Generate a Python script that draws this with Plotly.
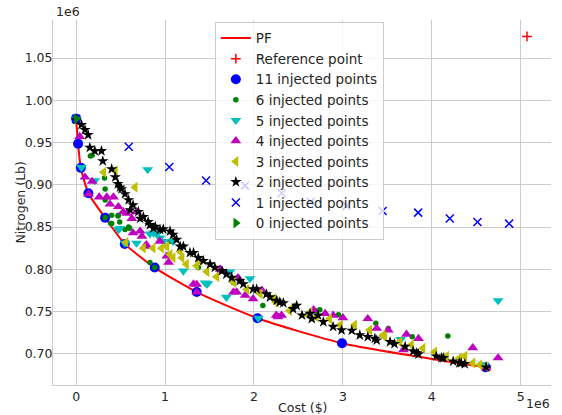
import numpy as np
import plotly.graph_objects as go

SCALE = 1e6  # both axes are in millions (offset label "1e6")

# Pareto front (cost, nitrogen), in millions
pf_cost = [0.0, 0.022, 0.053, 0.138, 0.326, 0.547, 0.884, 1.356, 2.04, 2.99, 4.607]
pf_nit = [0.978, 0.9485, 0.920, 0.890, 0.861, 0.830, 0.802, 0.773, 0.742, 0.7125, 0.684]

ref_cost = [5.07]
ref_nit = [1.0756]

# 11 injected points
inj11_cost = [0.0, 0.022, 0.053, 0.138, 0.326, 0.547, 0.884, 1.356, 2.04, 2.99, 4.607]
inj11_nit = [0.978, 0.9485, 0.920, 0.890, 0.861, 0.830, 0.802, 0.773, 0.742, 0.7125, 0.684]

# 6 injected points
inj6_cost = [0.16, 0.32, 0.326, 0.326, 0.326, 0.39, 0.40, 0.40, 0.47, 0.475, 0.49, 0.55,
             0.59, 0.60, 0.83, 0.884, 1.056, 1.374, 1.77, 2.10, 2.69, 2.74, 2.95, 3.37,
             3.51, 3.78, 4.18, 0.547, 0.18]
inj6_nit = [0.934, 0.908, 0.895, 0.882, 0.861, 0.854, 0.864, 0.854, 0.863, 0.864, 0.856, 0.847,
            0.850, 0.8485, 0.808, 0.802, 0.833, 0.802, 0.784, 0.757, 0.751, 0.752, 0.746, 0.736,
            0.730, 0.720, 0.721, 0.830, 0.935]

# 5 injected points
inj5_cost = [0.0, 0.06, 0.805, 0.21, 0.49, 0.55, 0.68, 0.83, 0.91, 0.94, 0.475, 0.87,
             0.98, 1.09, 1.206, 1.45, 1.48, 1.47, 1.73, 1.69, 1.955, 2.05, 3.65, 4.58, 4.745]
inj5_nit = [0.978, 0.9205, 0.918, 0.905, 0.8485, 0.831, 0.831, 0.842, 0.842, 0.837, 0.847, 0.843,
            0.833, 0.833, 0.798, 0.784, 0.783, 0.7825, 0.797, 0.767, 0.789, 0.742, 0.717, 0.687, 0.763]

# 4 injected points
inj4_cost = [0.04, 0.10, 0.18, 0.14, 0.26, 0.345, 0.42, 0.38, 0.475, 0.53, 0.57, 0.626,
             0.68, 0.64, 0.72, 0.74, 0.775, 0.79, 0.94, 1.02, 1.04, 1.32, 1.356, 1.356,
             1.62, 1.64, 1.77, 1.805, 1.82, 1.90, 1.99, 2.09, 2.25, 2.27, 2.31, 2.67,
             2.80, 2.89, 3.00, 3.28, 3.38, 3.51, 3.715, 3.85, 3.68, 4.46, 4.745, 4.61]
inj4_nit = [0.957, 0.909, 0.904, 0.889, 0.8855, 0.8855, 0.8855, 0.877, 0.874, 0.868, 0.866, 0.860,
            0.868, 0.843, 0.845, 0.839, 0.827, 0.829, 0.833, 0.8155, 0.808, 0.7825, 0.782, 0.773,
            0.800, 0.798, 0.773, 0.773, 0.790, 0.769, 0.765, 0.775, 0.7455, 0.7435, 0.7455, 0.752,
            0.7475, 0.7455, 0.7425, 0.7415, 0.730, 0.728, 0.723, 0.718, 0.7047, 0.707, 0.695, 0.683]

# 3 injected points
inj3_cost = [0.31, 0.44, 0.663, 0.56, 0.756, 0.865, 0.96, 1.02, 1.056, 1.09, 1.17, 1.19,
             1.24, 1.356, 1.39, 1.47, 1.58, 1.77, 1.92, 2.07, 2.22, 2.25, 2.40, 2.44,
             2.61, 2.63, 2.70, 2.85, 2.97, 3.13, 3.30, 3.45, 3.47, 3.64, 3.77, 3.90,
             4.03, 4.165, 4.31, 4.37, 4.46, 4.54, 4.61]
inj3_nit = [0.9147, 0.9167, 0.897, 0.832, 0.825, 0.825, 0.825, 0.827, 0.8175, 0.8135, 0.821, 0.8135,
            0.806, 0.804, 0.810, 0.797, 0.791, 0.7845, 0.776, 0.771, 0.765, 0.761, 0.751, 0.755,
            0.7455, 0.749, 0.7435, 0.7415, 0.734, 0.734, 0.728, 0.722, 0.720, 0.714, 0.7105, 0.7066,
            0.702, 0.697, 0.695, 0.697, 0.689, 0.687, 0.685]

# 2 injected points
inj2_cost = [0.0, 0.06, 0.10, 0.135, 0.154, 0.21, 0.285, 0.30, 0.40, 0.44, 0.47, 0.494,
             0.51, 0.55, 0.59, 0.607, 0.64, 0.70, 0.72, 0.756, 0.81, 0.83, 0.87, 0.89,
             0.944, 0.98, 1.056, 1.09, 1.13, 1.17, 1.206, 1.28, 1.32, 1.374, 1.43, 1.506,
             1.56, 1.64, 1.69, 1.75, 1.84, 1.88, 1.99, 2.03, 2.14, 2.18, 2.255, 2.29,
             2.33, 2.44, 2.48, 2.54, 2.63, 2.65, 2.72, 2.78, 2.89, 2.985, 3.10, 3.19,
             3.28, 3.36, 3.38, 3.53, 3.58, 3.70, 3.79, 3.83, 3.85, 4.05, 4.11, 4.13,
             4.24, 4.31, 4.33, 4.37, 4.61]
inj2_nit = [0.977, 0.971, 0.965, 0.959, 0.944, 0.940, 0.940, 0.928, 0.9186, 0.909, 0.901, 0.897,
            0.895, 0.889, 0.882, 0.870, 0.876, 0.868, 0.860, 0.862, 0.856, 0.8525, 0.8485, 0.8505,
            0.8467, 0.8475, 0.845, 0.841, 0.835, 0.827, 0.827, 0.8195, 0.8195, 0.8135, 0.810, 0.806,
            0.802, 0.798, 0.794, 0.790, 0.7863, 0.7825, 0.7765, 0.7765, 0.7706, 0.767, 0.763, 0.761,
            0.760, 0.753, 0.757, 0.7455, 0.7475, 0.7415, 0.7455, 0.7377, 0.732, 0.728, 0.7275, 0.722,
            0.720, 0.718, 0.716, 0.714, 0.7117, 0.7085, 0.703, 0.7008, 0.6996, 0.697, 0.695, 0.695,
            0.691, 0.689, 0.689, 0.688, 0.684]

# 1 injected point
inj1_cost = [0.0, 0.592, 1.048, 1.461, 1.899, 2.311, 2.637, 3.042, 3.446, 3.846, 4.202, 4.513, 4.869]
inj1_nit = [0.978, 0.945, 0.921, 0.905, 0.899, 0.890, 0.880, 0.875, 0.869, 0.867, 0.860, 0.856, 0.854]

# 0 injected points
inj0_cost = [0.0]
inj0_nit = [0.978]

x_ticks = [0, 1, 2, 3, 4, 5]
x_tick_text = ["0", "1", "2", "3", "4", "5"]
y_ticks = [0.70, 0.75, 0.80, 0.85, 0.90, 0.95, 1.00, 1.05]
y_tick_text = ["0.70", "0.75", "0.80", "0.85", "0.90", "0.95", "1.00", "1.05"]


def s(vals):
    return np.asarray(vals) * SCALE


FONT = "DejaVu Sans"
TXT = "#262626"
GRID = "#cccccc"

fig = go.Figure()
fig.add_trace(go.Scatter(x=s(pf_cost), y=s(pf_nit), mode="lines", name="PF",
                         line=dict(color="#ff0000", width=2, shape="spline", smoothing=0.6)))
fig.add_trace(go.Scatter(x=s(ref_cost), y=s(ref_nit), mode="markers", name="Reference point",
                         marker=dict(symbol="cross-thin", size=7, color="#ff0000",
                                     line=dict(color="#ff0000", width=1.5))))
fig.add_trace(go.Scatter(x=s(inj11_cost), y=s(inj11_nit), mode="markers", name="11 injected points",
                         marker=dict(symbol="circle", size=10, color="#0000ff",
                                     line=dict(width=0))))
fig.add_trace(go.Scatter(x=s(inj6_cost), y=s(inj6_nit), mode="markers", name="6 injected points",
                         marker=dict(symbol="circle", size=5.5, color="#008000",
                                     line=dict(width=0))))
fig.add_trace(go.Scatter(x=s(inj5_cost), y=s(inj5_nit), mode="markers", name="5 injected points",
                         marker=dict(symbol="triangle-down", size=9.5, color="#00bfbf",
                                     line=dict(width=0))))
fig.add_trace(go.Scatter(x=s(inj4_cost), y=s(inj4_nit), mode="markers", name="4 injected points",
                         marker=dict(symbol="triangle-up", size=9.5, color="#bf00bf",
                                     line=dict(width=0))))
fig.add_trace(go.Scatter(x=s(inj3_cost), y=s(inj3_nit), mode="markers", name="3 injected points",
                         marker=dict(symbol="triangle-left", size=9.5, color="#bfbf00",
                                     line=dict(width=0))))
fig.add_trace(go.Scatter(x=s(inj2_cost), y=s(inj2_nit), mode="markers", name="2 injected points",
                         marker=dict(symbol="star", size=8.5, color="#000000",
                                     line=dict(width=0))))
fig.add_trace(go.Scatter(x=s(inj1_cost), y=s(inj1_nit), mode="markers", name="1 injected points",
                         marker=dict(symbol="x-thin", size=8, color="#0000ff",
                                     line=dict(color="#0000ff", width=1.5))))
fig.add_trace(go.Scatter(x=s(inj0_cost), y=s(inj0_nit), mode="markers", name="0 injected points",
                         marker=dict(symbol="triangle-right", size=9.5, color="#008000",
                                     line=dict(width=0))))

fig.update_layout(
    width=562, height=415,
    margin=dict(l=53, r=11, t=20, b=24),
    paper_bgcolor="white", plot_bgcolor="white",
    font=dict(family=FONT, size=12, color=TXT),
    showlegend=True,
    legend=dict(x=0.325, y=0.995, xanchor="left", yanchor="top",
                bgcolor="rgba(255,255,255,0.8)", bordercolor=GRID, borderwidth=1,
                font=dict(family=FONT, size=13.5, color=TXT)),
)
fig.update_xaxes(range=[-0.26 * SCALE, 5.34 * SCALE], tickvals=s(x_ticks), ticktext=x_tick_text,
                 showgrid=True, gridcolor=GRID, gridwidth=1, zeroline=False,
                 showline=True, linecolor=GRID, linewidth=1, ticks="", ticklen=0,
                 tickfont=dict(family=FONT, size=12.5, color=TXT))
fig.update_yaxes(range=[0.663 * SCALE, 1.095 * SCALE], tickvals=s(y_ticks), ticktext=y_tick_text,
                 showgrid=True, gridcolor=GRID, gridwidth=1, zeroline=False,
                 showline=True, linecolor=GRID, linewidth=1, ticks="", ticklen=0,
                 ticklabelstandoff=-3,
                 tickfont=dict(family=FONT, size=12.5, color=TXT))

# axis titles and scale-offset labels
fig.add_annotation(text="Cost ($)", xref="paper", yref="paper", x=0.5, y=0, yshift=-13,
                   xanchor="center", yanchor="top", showarrow=False,
                   font=dict(family=FONT, size=12.5, color=TXT))
fig.add_annotation(text="Nitrogen (Lb)", xref="paper", yref="paper", x=0, xshift=-33, y=0.5,
                   textangle=-90, xanchor="center", yanchor="middle", showarrow=False,
                   font=dict(family=FONT, size=12.5, color=TXT))
fig.add_annotation(text="1e6", xref="paper", yref="paper", x=0, y=1, xshift=1, yshift=-1,
                   xanchor="left", yanchor="bottom", showarrow=False,
                   font=dict(family=FONT, size=12.5, color=TXT))
fig.add_annotation(text="1e6", xref="paper", yref="paper", x=1, y=0, xshift=-13, yshift=-9,
                   xanchor="center", yanchor="top", showarrow=False,
                   font=dict(family=FONT, size=12.5, color=TXT))

fig.write_html("out.html")
